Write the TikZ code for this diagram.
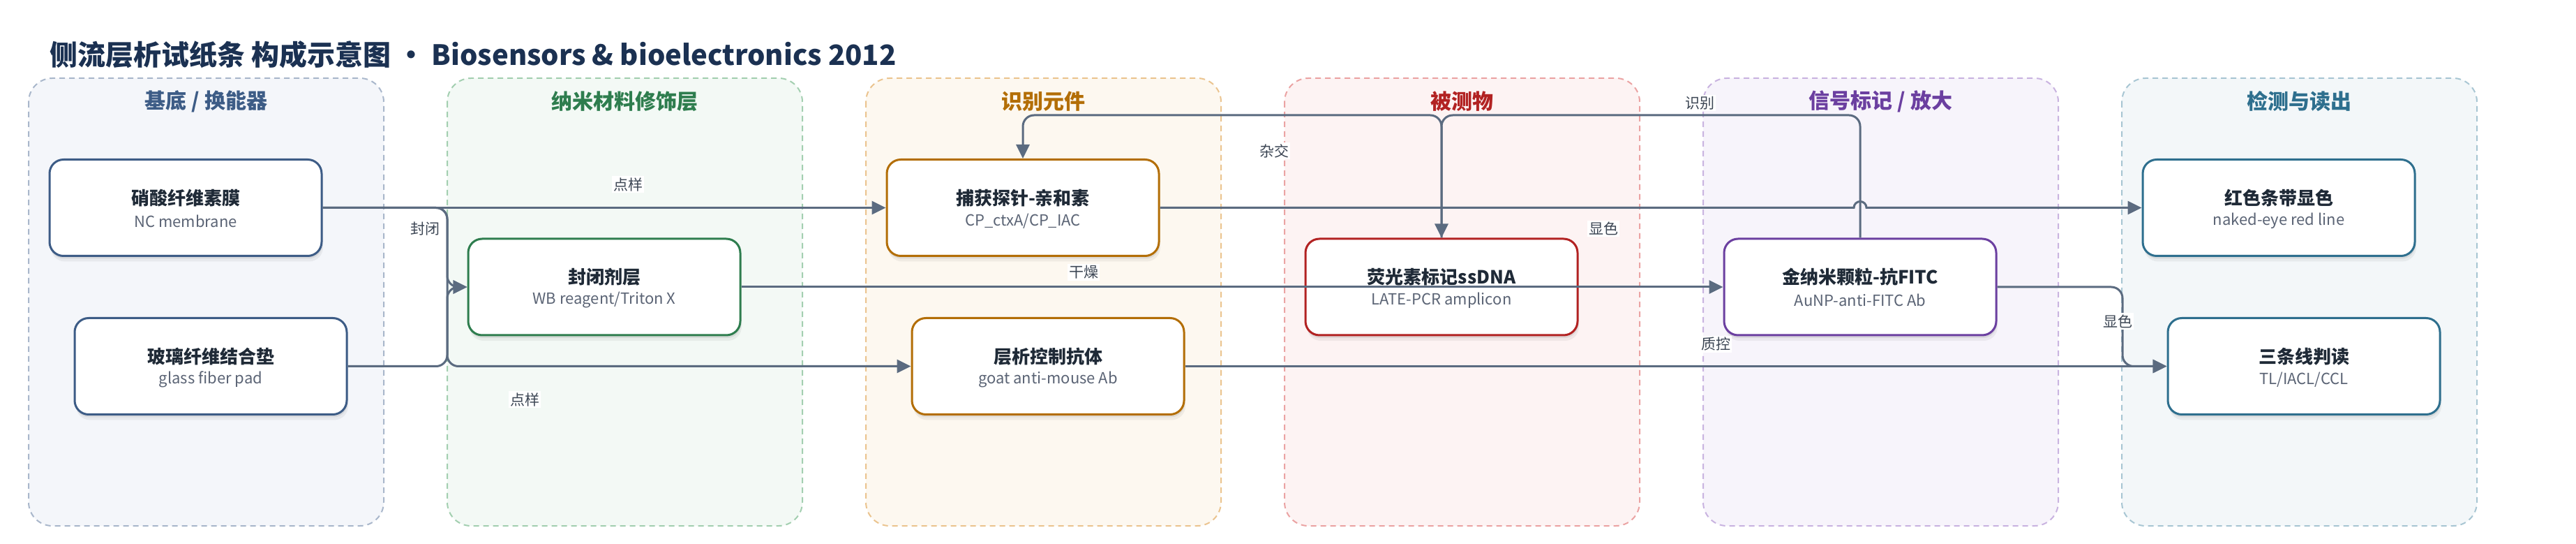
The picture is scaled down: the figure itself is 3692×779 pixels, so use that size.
\documentclass[tikz,border=0pt]{standalone}
\usepackage{fontspec}
\setmainfont{Noto Sans CJK SC}
\usetikzlibrary{arrows.meta,shadows,calc}
\definecolor{titlec}{HTML}{1B3152}
\definecolor{edgec}{HTML}{5B6B80}
\definecolor{maintext}{HTML}{1F2A37}
\definecolor{subtext}{HTML}{5B6475}
\definecolor{labtext}{HTML}{3C4654}
\definecolor{gAline}{HTML}{A9B7CB}\definecolor{gAfill}{HTML}{F4F6FA}\definecolor{gAc}{HTML}{3D5C86}
\definecolor{gBline}{HTML}{A3CFB0}\definecolor{gBfill}{HTML}{F3F9F5}\definecolor{gBc}{HTML}{2E7D4E}
\definecolor{gCline}{HTML}{EBC48F}\definecolor{gCfill}{HTML}{FDF8F0}\definecolor{gCc}{HTML}{B36E06}
\definecolor{gDline}{HTML}{EBA3A3}\definecolor{gDfill}{HTML}{FDF3F3}\definecolor{gDc}{HTML}{B22222}
\definecolor{gEline}{HTML}{C9B3E0}\definecolor{gEfill}{HTML}{F7F4FB}\definecolor{gEc}{HTML}{6B3FA0}
\definecolor{gFline}{HTML}{A8C6D3}\definecolor{gFfill}{HTML}{F3F7F9}\definecolor{gFc}{HTML}{2E6F8E}
\tikzset{
  grp/.style={dashed, dash pattern=on 4pt off 3pt, line width=1pt, rounded corners=17pt},
  grptitle/.style={font=\fontsize{15pt}{18pt}\selectfont\bfseries},
  box/.style={draw, line width=1.5pt, fill=white, rounded corners=10pt,
    minimum width=195pt, minimum height=69pt, inner sep=0pt,
    general shadow={shadow yshift=-2pt, shadow xshift=0.5pt, opacity=0.07, fill=black},
    general shadow={shadow yshift=-4pt, shadow xshift=1pt, opacity=0.05, fill=black}},
  boxtitle/.style={font=\fontsize{13pt}{16pt}\selectfont\bfseries, text=maintext, inner sep=0pt},
  boxsub/.style={font=\fontsize{11pt}{13pt}\selectfont, text=subtext, inner sep=0pt},
  edge/.style={draw=edgec, line width=1.5pt, rounded corners=8pt, -{Triangle[length=10pt,width=9.5pt]}},
  elabel/.style={fill=white, inner sep=1pt, text=labtext, font=\fontsize{10.5pt}{12pt}\selectfont}
}
\newcommand{\lfbox}[6]{%
  \node[box, draw=#4] (#1) at (#2,#3) {};
  \node[boxtitle] (#1-t) at ($(#1.center)+(0,-14)$) {#5};
  \node[boxsub] (#1-s) at ($(#1.center)+(0,19)$) {#6};
}
\begin{document}
\begin{tikzpicture}[x=0.5pt,y=-0.5pt]
\useasboundingbox (0,0) rectangle (3692,779);
\fill[white] (0,0) rectangle (3692,779);
% title
\node[anchor=west, inner sep=0pt, text=titlec, font=\fontsize{20pt}{24pt}\selectfont\bfseries] (title) at (71,78)
  {侧流层析试纸条 构成示意图 · Biosensors \& bioelectronics 2012};
% groups
\draw[grp, draw=gAline, fill=gAfill] (41,112) rectangle (550,753);
\draw[grp, draw=gBline, fill=gBfill] (641,112) rectangle (1150,753);
\draw[grp, draw=gCline, fill=gCfill] (1241,112) rectangle (1750,753);
\draw[grp, draw=gDline, fill=gDfill] (1841,112) rectangle (2350,753);
\draw[grp, draw=gEline, fill=gEfill] (2441,112) rectangle (2950,753);
\draw[grp, draw=gFline, fill=gFfill] (3041,112) rectangle (3550,753);
\node[grptitle, text=gAc] (gA) at (295.5,145) {基底 / 换能器};
\node[grptitle, text=gBc] (gB) at (895.5,145) {纳米材料修饰层};
\node[grptitle, text=gCc] (gC) at (1495.5,145) {识别元件};
\node[grptitle, text=gDc] (gD) at (2095.5,145) {被测物};
\node[grptitle, text=gEc] (gE) at (2695.5,145) {信号标记 / 放大};
\node[grptitle, text=gFc] (gF) at (3295.5,145) {检测与读出};
% nodes
\lfbox{nc}{266}{297.5}{gAc}{硝酸纤维素膜}{NC membrane}
\lfbox{gfp}{302}{524.5}{gAc}{玻璃纤维结合垫}{glass fiber pad}
\lfbox{wb}{866}{411}{gBc}{封闭剂层}{WB reagent/Triton X}
\lfbox{cp}{1466}{297.5}{gCc}{捕获探针-亲和素}{CP\_ctxA/CP\_IAC}
\lfbox{goat}{1502}{524.5}{gCc}{层析控制抗体}{goat anti-mouse Ab}
\lfbox{ssdna}{2066}{411}{gDc}{荧光素标记ssDNA}{LATE-PCR amplicon}
\lfbox{aunp}{2666}{411}{gEc}{金纳米颗粒-抗FITC}{AuNP-anti-FITC Ab}
\lfbox{red}{3266}{297.5}{gFc}{红色条带显色}{naked-eye red line}
\lfbox{three}{3302}{524.5}{gFc}{三条线判读}{TL/IACL/CCL}
% routing coordinates
\coordinate (jB) at (641,411);
\coordinate (jC) at (641,524.5);
\coordinate (jD) at (3042,524.5);
\coordinate (rt) at (0,165);
\coordinate (hopA) at (2657,297.5);
% edges
\draw[edge] (nc.east) -- (cp.west);
\draw[edge] (nc.east) -| (jB) -- (wb.west);
\draw[edge] (nc.east) -| (jC) -- (goat.west);
\draw[edge] (gfp.east) -| (jB) -- (wb.west);
\draw[edge] (wb.east) -- (aunp.west);
\draw[edge] (ssdna.north) -- (ssdna.north |- rt) -| (cp.north);
\draw[edge] (aunp.north) -- (aunp.north |- rt) -| (ssdna.north);
\draw[edge, rounded corners=0pt] (cp.east) -- (hopA) arc[start angle=180, end angle=0, radius=4.5pt] -- (red.west);
\draw[edge] (goat.east) -- (three.west);
\draw[edge] (aunp.east) -| (jD) -- (three.west);
% edge labels
\node[elabel] (l1) at (900,264) {点样};
\node[elabel] (l2) at (609,327.5) {封闭};
\node[elabel] (l3) at (752,572) {点样};
\node[elabel] (l4) at (1553,390) {干燥};
\node[elabel] (l5) at (1826,216) {杂交};
\node[elabel] (l6) at (2298,327.5) {显色};
\node[elabel] (l7) at (2436,147.5) {识别};
\node[elabel] (l8) at (2459,493) {质控};
\node[elabel] (l9) at (3035,460) {显色};
\end{tikzpicture}
\end{document}
